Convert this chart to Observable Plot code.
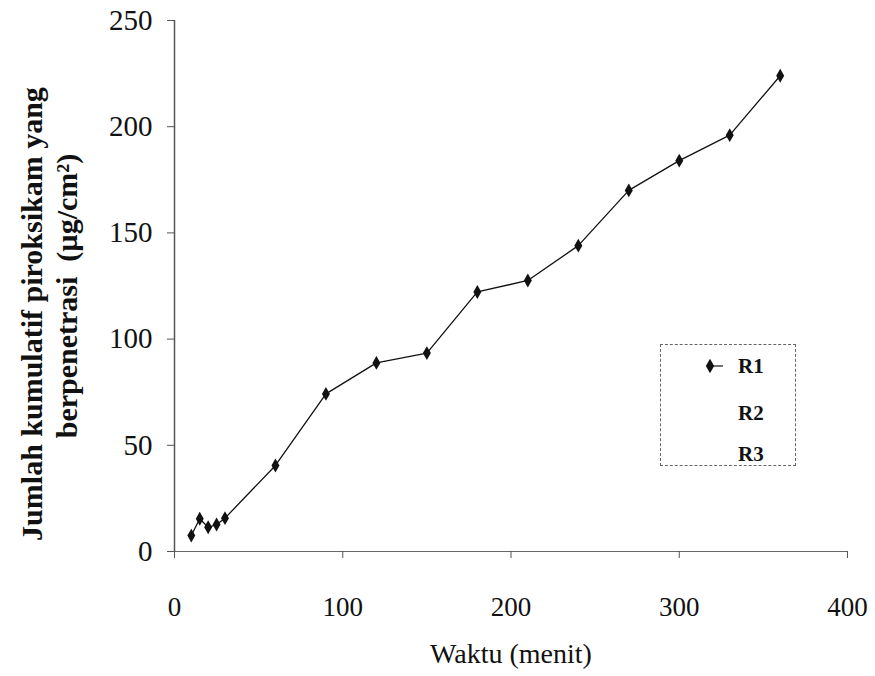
<!DOCTYPE html>
<html><head><meta charset="utf-8">
<script src="https://cdn.jsdelivr.net/npm/d3@7"></script>
<script src="https://cdn.jsdelivr.net/npm/@observablehq/plot@0.6"></script>
<style>
body{margin:0;background:#fff;}
#wrap{position:relative;width:875px;height:676px;}
#legend{position:absolute;left:660px;top:344px;width:136px;height:122px;box-sizing:border-box;border:1px dashed #666;background:#fff;}
</style></head><body><div id="wrap"><div id="legend"></div></div>
<script>
// data
const times = [10, 15, 20, 25, 30, 60, 90, 120, 150, 180, 210, 240, 270, 300, 330, 360];
const r1 = [7.5, 15.4, 11.4, 12.7, 15.7, 40.5, 74.2, 88.8, 93.4, 122.2, 127.6, 144, 170, 184, 196, 224];
const seriesNames = ["R1", "R2", "R3"];
const xTicks = [0, 100, 200, 300, 400];
const yTicks = [0, 50, 100, 150, 200, 250];
const xTitle = "Waktu (menit)";
const yTitle1 = "Jumlah kumulatif piroksikam yang";
const yTitle2 = "berpenetrasi  (µg/cm²)";

const data = times.map((t, i) => ({t, v: r1[i], s: seriesNames[0]}));

const chart = Plot.plot({
  width: 875, height: 676,
  marginLeft: 174, marginRight: 28, marginTop: 20, marginBottom: 125,
  x: {domain: [0, 400]},
  y: {domain: [0, 250]},
  style: {fontFamily: "'Liberation Serif', 'Times New Roman', serif", background: "white", color: "#111"},
  marks: [
    Plot.ruleX([0], {stroke: "#555", strokeWidth: 1.5}),
    Plot.ruleY([0], {stroke: "#666", strokeWidth: 1.2}),
    Plot.axisY({ticks: yTicks, tickSize: 7, tickPadding: 15, fontSize: 29, label: null, stroke: "#555"}),
    Plot.axisX({ticks: xTicks, tickSize: 7, tickPadding: 38, fontSize: 27, label: null, stroke: "#555"}),
    Plot.line(data, {x: "t", y: "v", stroke: "#111", strokeWidth: 1.3}),
    Plot.dot(data, {x: "t", y: "v", symbol: "diamond", r: 4.2, fill: "#111"}),
    Plot.text([xTitle], {text: d => d, frameAnchor: "bottom", dy: 111, fontSize: 28, fill: "#111"}),
    Plot.text([yTitle1], {text: d => d, frameAnchor: "left", textAnchor: "middle", rotate: -90, dx: -142, dy: 28, fontSize: 30, fontWeight: "bold", fill: "#111"}),
    Plot.text([yTitle2], {text: d => d, frameAnchor: "left", textAnchor: "middle", rotate: -90, dx: -107, dy: 10, fontSize: 30, fontWeight: "bold", fill: "#111", style: "white-space:pre"})
  ]
});
document.getElementById("wrap").prepend(chart);

// legend
const lg = d3.select("#legend").append("svg").attr("width", 134).attr("height", 120)
  .style("font-family", "'Liberation Serif', 'Times New Roman', serif");
const rowsY = [21, 68, 109];
seriesNames.forEach((name, i) => {
  const g = lg.append("g").attr("transform", `translate(0,${rowsY[i]})`);
  if (i === 0) {
    g.append("line").attr("x1", 47).attr("x2", 62).attr("y1", 0).attr("y2", 0).attr("stroke", "#111").attr("stroke-width", 1.2);
    g.append("path").attr("d", d3.symbol(d3.symbolDiamond, 60)()).attr("transform", "translate(49,0)").attr("fill", "#111");
  }
  g.append("text").attr("x", 77).attr("y", 0).attr("dy", "0.35em").attr("font-size", 21).attr("font-weight", "bold").attr("fill", "#111").text(name);
});
</script>
</body></html>
